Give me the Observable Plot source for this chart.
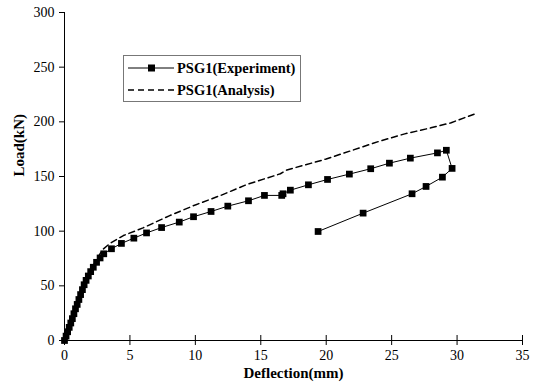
<!DOCTYPE html>
<html><head><meta charset="utf-8">
<script src="https://cdn.jsdelivr.net/npm/d3@7"></script>
<script src="https://cdn.jsdelivr.net/npm/@observablehq/plot@0.6"></script>
<style>
body{margin:0;background:#fff}
#wrap{position:relative;width:540px;height:387px;font-family:"Liberation Serif",serif}
#legend{position:absolute;left:123px;top:55px;width:178px;height:47px;border:1.5px solid #777;background:#fff;box-sizing:border-box}
#legend .row{position:absolute;left:4px;height:16px;display:flex;align-items:center;gap:3px;font:bold 14.5px "Liberation Serif",serif;color:#000;white-space:nowrap}
</style></head><body><div id="wrap"><div id="legend"></div></div>
<script>
// Experiment (PSG1)
const expX = [0,0.12,0.24,0.36,0.48,0.6,0.72,0.84,0.97,1.1,1.23,1.37,1.5,1.65,1.82,2.0,2.2,2.45,2.72,3.0,3.59,4.35,5.3,6.27,7.42,8.77,9.86,11.2,12.48,14.06,15.28,16.6,16.7,17.26,18.64,20.1,21.77,23.4,24.83,26.43,28.5,29.18,29.62,28.88,27.63,26.56,22.82,19.38];
const expY = [0,4,8,12,16,20,24.5,29,33,37.5,42,46.5,51,55,59,63,67,71.5,75.5,79.3,83.9,88.8,93.6,98.4,103.3,108.3,113.2,118,122.9,127.8,132.7,132.7,134.2,137.5,142.4,147.3,152.2,157.1,162.2,166.8,171.6,174,157.4,149.4,140.9,134.2,116.5,99.7];
// Analysis (PSG1)
const anaX = [0,0.7,1.5,2.0,2.5,2.9,3.5,4.5,6,8,10,12,14,16.5,17,20,22,24,26,28,29.5,31.3];
const anaY = [0,24,51,64,75,83,89,96,103,114,124,133,143,152.5,156,166,174,182,189,194.5,199,207];
const xTicks = [0,5,10,15,20,25,30,35];
const yTicks = [0,50,100,150,200,250,300];
const xLabel = "Deflection(mm)";
const yLabel = "Load(kN)";
const seriesNames = ["PSG1(Experiment)","PSG1(Analysis)"];

const exp = expX.map((x,i)=>({x, y:expY[i]}));
const ana = anaX.map((x,i)=>({x, y:anaY[i]}));

const chart = Plot.plot({
  width:540, height:387,
  marginLeft:64, marginRight:18, marginTop:12, marginBottom:47,
  style:{fontFamily:"Liberation Serif", fontSize:"14px", color:"#000", background:"#fff", overflow:"visible"},
  x:{domain:[0,35]},
  y:{domain:[0,300]},
  marks:[
    Plot.ruleX([0],{stroke:"#000"}),
    Plot.ruleY([0],{stroke:"#000"}),
    Plot.axisY({ticks:yTicks, tickSize:5, tickPadding:5, label:null, fontSize:14}),
    Plot.axisX({ticks:xTicks, tickSize:10, dy:-5, tickFormat:()=>"", label:null}),
    Plot.axisX({ticks:xTicks, tickSize:0, tickPadding:10, label:null, fontSize:14}),
    Plot.line(ana,{x:"x", y:"y", stroke:"#000", strokeWidth:1.5, strokeDasharray:"6,4"}),
    Plot.line(exp,{x:"x", y:"y", stroke:"#000", strokeWidth:1}),
    Plot.dot(exp,{x:"x", y:"y", symbol:"square", r:3.8, fill:"#000", stroke:null}),
    Plot.text([xLabel],{frameAnchor:"bottom", dy:37, fontWeight:"bold", fontSize:15}),
    Plot.text([yLabel],{frameAnchor:"left", dx:-45, rotate:-90, fontWeight:"bold", fontSize:15})
  ]
});
document.getElementById("wrap").prepend(chart);

const lg = document.getElementById("legend");
lg.innerHTML = `
<div class="row" style="top:4px"><svg width="46" height="16"><line x1="0" y1="8" x2="46" y2="8" stroke="#000" stroke-width="1"/><rect x="20" y="4.5" width="7" height="7" fill="#000"/></svg><span>${seriesNames[0]}</span></div>
<div class="row" style="top:26px"><svg width="46" height="16"><line x1="0" y1="8" x2="46" y2="8" stroke="#000" stroke-width="1.5" stroke-dasharray="6,4"/></svg><span>${seriesNames[1]}</span></div>`;
</script>
</body></html>
